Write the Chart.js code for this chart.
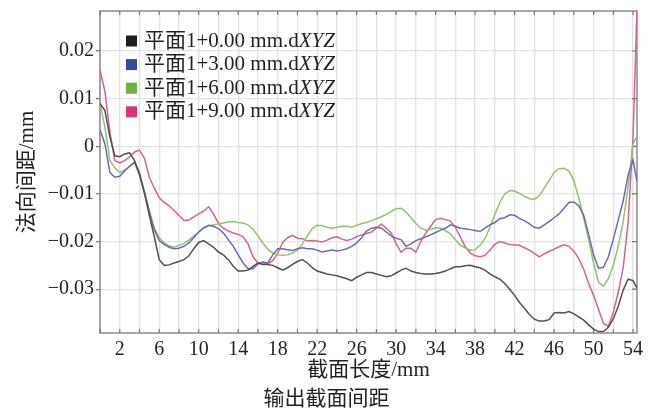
<!DOCTYPE html>
<html>
<head>
<meta charset="utf-8">
<script src="https://cdn.jsdelivr.net/npm/chart.js@4.4.1/dist/chart.umd.min.js"></script>
<style>
  html, body { margin: 0; padding: 0; background: #fff; }
  #wrap { width: 653px; height: 410px; position: relative; }
</style>
</head>
<body>
<div id="wrap"><canvas id="gapChart"></canvas></div>
<script>
// section length positions (mm)
const xMm = [
  0, 0.5, 1, 1.5, 2, 2.5, 3, 3.5, 4, 4.5,
  5, 5.5, 6, 6.5, 7, 7.5, 8, 8.5, 9, 9.5,
  10, 10.5, 11, 11.5, 12, 12.5, 13, 13.5, 14, 14.5,
  15, 15.5, 16, 16.5, 17, 17.5, 18, 18.5, 19, 19.5,
  20, 20.5, 21, 21.5, 22, 22.5, 23, 23.5, 24, 24.5,
  25, 25.5, 26, 26.5, 27, 27.5, 28, 28.5, 29, 29.5,
  30, 30.5, 31, 31.5, 32, 32.5, 33, 33.5, 34, 34.5,
  35, 35.5, 36, 36.5, 37, 37.5, 38, 38.5, 39, 39.5,
  40, 40.5, 41, 41.5, 42, 42.5, 43, 43.5, 44, 44.5,
  45, 45.5, 46, 46.5, 47, 47.5, 48, 48.5, 49, 49.5,
  50, 50.5, 51, 51.5, 52, 52.5, 53, 53.5, 54, 54.4
];

const planeOffsets = ['0.00', '3.00', '6.00', '9.00'];

// normal gap (mm) for each section plane
const gapPlane0 = [
  0.009, 0.0075, 0.002, -0.002, -0.0022, -0.0016, -0.0014, -0.003, -0.0058, -0.0098,
  -0.0145, -0.019, -0.0238, -0.025, -0.0249, -0.0245, -0.0242, -0.0238, -0.023, -0.0215,
  -0.0202, -0.0198, -0.0205, -0.0212, -0.0222, -0.0228, -0.0238, -0.0252, -0.0262, -0.0262,
  -0.026, -0.0252, -0.0245, -0.0248, -0.0248, -0.025, -0.0255, -0.026, -0.0255, -0.0248,
  -0.0242, -0.0238, -0.0245, -0.0255, -0.0262, -0.0265, -0.0268, -0.027, -0.0272, -0.0275,
  -0.0278, -0.0282, -0.0275, -0.027, -0.0265, -0.0265, -0.0268, -0.0271, -0.0274, -0.0272,
  -0.0266, -0.026, -0.0256, -0.0262, -0.0265, -0.0267, -0.0268, -0.0268, -0.0267, -0.0265,
  -0.0262, -0.0257, -0.0253, -0.0253, -0.0251, -0.025, -0.0253, -0.0255, -0.026, -0.0268,
  -0.0274, -0.0279, -0.0288, -0.03, -0.0313, -0.0328, -0.034, -0.0353, -0.0363, -0.0367,
  -0.0367, -0.0364, -0.035, -0.0349, -0.035, -0.0347, -0.0352, -0.0358, -0.0365, -0.0375,
  -0.0384, -0.0389, -0.0389, -0.038, -0.0362, -0.0336, -0.0302, -0.0279, -0.0282, -0.0298
];
const gapPlane3 = [
  0.0035, 0.0005, -0.0055, -0.0065, -0.0063, -0.0052, -0.0042, -0.0033, -0.006, -0.0097,
  -0.0138, -0.0175, -0.0198, -0.0206, -0.0212, -0.0215, -0.0214, -0.021, -0.0203, -0.0192,
  -0.018, -0.0171, -0.0166, -0.0168, -0.0173, -0.0182, -0.0196, -0.021, -0.0228, -0.0245,
  -0.0257, -0.0257, -0.0247, -0.0243, -0.0245, -0.0228, -0.0215, -0.0215, -0.0217, -0.0219,
  -0.0215, -0.0213, -0.0215, -0.0215, -0.0218, -0.0222, -0.022, -0.0218, -0.022, -0.0218,
  -0.0215, -0.021, -0.0203, -0.0192, -0.0178, -0.0172, -0.017, -0.0172, -0.018, -0.0188,
  -0.0193, -0.0196, -0.021, -0.0205, -0.0198, -0.0194, -0.019, -0.0186, -0.0181, -0.0176,
  -0.0172, -0.0165, -0.0168, -0.0172, -0.0173, -0.0175, -0.0177, -0.0179, -0.0172, -0.0165,
  -0.016, -0.0152, -0.015, -0.0144, -0.0145, -0.0152, -0.0156, -0.0163, -0.017, -0.0172,
  -0.0165, -0.0158, -0.015, -0.0142, -0.013, -0.0118, -0.0117, -0.0125, -0.0145, -0.0185,
  -0.0228, -0.0256, -0.0254, -0.0232, -0.0195, -0.0155, -0.0115, -0.006, -0.0029, -0.0074
];
const gapPlane6 = [
  0.009, 0.004, -0.003, -0.0045, -0.0055, -0.005, -0.0042, -0.0035, -0.0055, -0.0095,
  -0.0135, -0.0172, -0.0192, -0.0203, -0.0209, -0.0212, -0.0208, -0.0204, -0.0197, -0.0188,
  -0.018, -0.0172, -0.0167, -0.0165, -0.0163, -0.0161, -0.0159, -0.0158, -0.016, -0.0161,
  -0.0165, -0.0174, -0.0188, -0.0203, -0.0216, -0.0224, -0.0228, -0.0229, -0.0228, -0.0224,
  -0.0218, -0.0205, -0.0188, -0.0173, -0.0166, -0.0167, -0.017, -0.0172, -0.017, -0.0168,
  -0.0168, -0.017, -0.0166, -0.0162, -0.016, -0.0156, -0.0152, -0.0148, -0.0143, -0.0137,
  -0.0131, -0.013, -0.0138, -0.015, -0.0162, -0.0172, -0.0176, -0.0174, -0.0171, -0.0172,
  -0.0177, -0.0184, -0.0196, -0.0208, -0.0213, -0.0218, -0.0217, -0.0208, -0.0194, -0.017,
  -0.0143, -0.0118, -0.01, -0.0093, -0.0094, -0.0099, -0.0105, -0.011, -0.0111, -0.0104,
  -0.0088, -0.0072, -0.0055, -0.0047, -0.0046, -0.0052, -0.0072, -0.0108, -0.015, -0.0196,
  -0.0245, -0.0285, -0.0294, -0.0278, -0.025, -0.021, -0.0158, -0.0085, 0.0005, 0.0021
];
const gapPlane9 = [
  0.016, 0.0115, 0.003, -0.003, -0.0035, -0.003, -0.0022, -0.0012, -0.0008, -0.0025,
  -0.0065, -0.0088, -0.0108, -0.0118, -0.0125, -0.0135, -0.0145, -0.0156, -0.0155, -0.0148,
  -0.0142, -0.0136, -0.0127, -0.0142, -0.0162, -0.0172, -0.0178, -0.0182, -0.0185, -0.019,
  -0.0205, -0.0232, -0.0245, -0.0244, -0.0247, -0.024, -0.0225, -0.0202, -0.0192, -0.0187,
  -0.0193, -0.0194, -0.0199, -0.0198, -0.0199, -0.0201, -0.0197, -0.0192, -0.019, -0.0195,
  -0.0198, -0.0195, -0.019, -0.0186, -0.0183, -0.018, -0.0172, -0.0163, -0.0172, -0.0182,
  -0.0205, -0.0222, -0.0214, -0.0214, -0.0222, -0.02, -0.0182, -0.0168, -0.0154, -0.0151,
  -0.0154, -0.0157, -0.017, -0.019, -0.0211, -0.0224, -0.023, -0.0232, -0.0229, -0.0218,
  -0.0206, -0.02, -0.0203, -0.0206, -0.0207, -0.0208, -0.0213, -0.0218, -0.0225, -0.0232,
  -0.0226, -0.0221, -0.0216, -0.0211, -0.0207, -0.021, -0.022, -0.0236, -0.0258, -0.0288,
  -0.0313, -0.0342, -0.0372, -0.0378, -0.0348, -0.0307, -0.0255, -0.016, 0.002, 0.029
];

const seriesValues = [gapPlane0, gapPlane3, gapPlane6, gapPlane9];
const lineColors = ['#574e50', '#6b6cb0', '#8fc46c', '#d8628f'];
const keyColors = ['#1e1e1e', '#2f4d9b', '#6cb43f', '#d7337b'];

const serif = '"Liberation Serif", "Times New Roman", "Noto Sans CJK SC", serif';
const textColor = '#231f20';

// border, inward ticks on top/right/bottom
const framePlugin = {
  id: 'frame',
  beforeDatasetsDraw(chart) {
    const { ctx, chartArea: a, scales } = chart;
    ctx.save();
    ctx.strokeStyle = '#8c8c8c';
    ctx.lineWidth = 1.5;
    ctx.strokeRect(a.left, a.top, a.right - a.left, a.bottom - a.top);
    ctx.strokeStyle = '#777';
    ctx.lineWidth = 1.2;
    ctx.beginPath();
    scales.x.ticks.forEach(t => {
      const px = scales.x.getPixelForValue(t.value);
      ctx.moveTo(px, a.bottom); ctx.lineTo(px, a.bottom - 4);
      ctx.moveTo(px, a.top); ctx.lineTo(px, a.top + 4);
    });
    scales.y.ticks.forEach(t => {
      const py = scales.y.getPixelForValue(t.value);
      ctx.moveTo(a.right, py); ctx.lineTo(a.right - 5, py);
    });
    ctx.stroke();
    ctx.restore();
  }
};

// legend box inside the plot and the caption under the axis
const insideLegend = {
  id: 'insideLegend',
  afterDraw(chart) {
    const { ctx, chartArea: a } = chart;
    ctx.save();
    ctx.textBaseline = 'middle';
    ctx.textAlign = 'left';
    chart.data.datasets.forEach((ds, i) => {
      const y = a.top + 30 + i * 23.6;
      ctx.fillStyle = keyColors[i];
      ctx.fillRect(a.left + 26, y - 5.5, 11, 11);
      const main = ds.label.slice(0, -3);
      ctx.fillStyle = textColor;
      ctx.font = '21px ' + serif;
      ctx.fillText(main, a.left + 44, y);
      const w = ctx.measureText(main).width;
      ctx.font = 'italic 21px ' + serif;
      ctx.fillText(ds.label.slice(-3), a.left + 44 + w, y);
    });
    ctx.textAlign = 'center';
    ctx.font = '21px ' + serif;
    ctx.fillText('输出截面间距', chart.width / 2, 399);
    ctx.restore();
  }
};

const datasets = seriesValues.map((vals, i) => ({
  label: '平面1+' + planeOffsets[i] + ' mm.dXYZ',
  data: xMm.map((x, k) => ({ x: x, y: vals[k] })),
  borderColor: lineColors[i],
  borderWidth: 1.5,
  pointRadius: 0,
  tension: 0,
  fill: false
}));

new Chart(document.getElementById('gapChart').getContext('2d'), {
  type: 'line',
  data: { datasets: datasets },
  options: {
    responsive: true,
    maintainAspectRatio: false,
    animation: false,
    layout: { padding: { top: 11, right: 16, left: 0, bottom: 0 } },
    plugins: {
      legend: { display: false },
      tooltip: { enabled: false }
    },
    scales: {
      x: {
        type: 'linear',
        min: 0,
        max: 54.4,
        afterFit: s => { s.height = 77; s.paddingLeft = 0; s.paddingRight = 0; },
        border: { display: false },
        grid: { color: '#e2e2e2', lineWidth: 1.3, drawTicks: false },
        ticks: {
          stepSize: 2,
          includeBounds: false,
          autoSkip: false,
          maxRotation: 0,
          padding: 5,
          color: textColor,
          font: { family: serif, size: 20 },
          callback: v => (Math.round(v) % 4 === 2 ? String(Math.round(v)) : '')
        },
        title: {
          display: true,
          text: '截面长度/mm',
          color: textColor,
          font: { family: serif, size: 21 },
          padding: { top: 0, bottom: 27 }
        }
      },
      y: {
        min: -0.0392,
        max: 0.0284,
        afterFit: s => { s.width = 100; s.paddingTop = 0; s.paddingBottom = 0; },
        border: { display: false },
        grid: { color: '#e2e2e2', lineWidth: 1.3, drawTicks: true, tickLength: 4, tickColor: '#777' },
        ticks: {
          stepSize: 0.01,
          includeBounds: false,
          padding: 2,
          color: textColor,
          font: { family: serif, size: 20 },
          callback: v => {
            const r = Math.round(v * 100) / 100;
            if (r === 0) return '0';
            return (r < 0 ? '\u2212' : '') + Math.abs(r).toFixed(2);
          }
        },
        title: {
          display: true,
          text: '法向间距/mm',
          color: textColor,
          font: { family: serif, size: 21 },
          padding: { top: 15, bottom: 0 }
        }
      }
    }
  },
  plugins: [framePlugin, insideLegend]
});
</script>
</body>
</html>
